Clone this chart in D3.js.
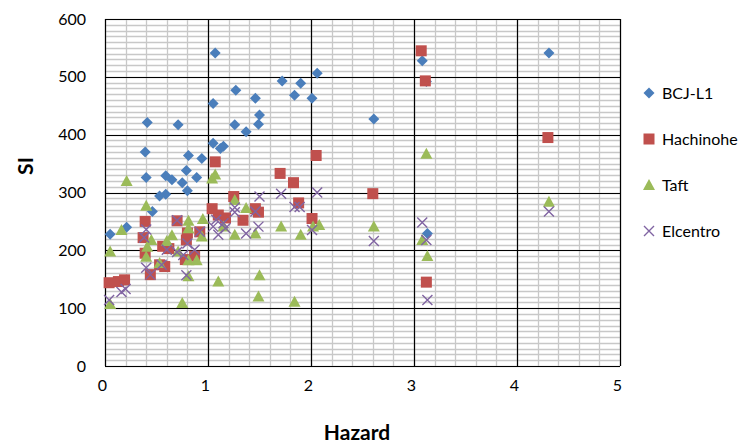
<!DOCTYPE html>
<html>
<head>
<meta charset="utf-8">
<script src="https://cdn.jsdelivr.net/npm/d3@7"></script>
<style>
  body { margin: 0; background: #fff; }
  text { font-family: Lato, "Open Sans", sans-serif; }
</style>
</head>
<body>
<div id="chart"></div>
<script>
// hazard / SI pairs
var bcj = [[0.05,228],[0.21,240],[0.39,370],[0.41,421],[0.40,326],[0.46,267],[0.53,294],[0.59,297],
  [0.59,329],[0.65,322],[0.71,417],[0.75,317],[0.79,338],[0.80,303],[0.81,364],[0.89,326],[0.94,359],
  [1.05,385],[1.05,454],[1.07,541],[1.12,376],[1.15,380],[1.26,417],[1.27,477],[1.37,405],[1.46,463],
  [1.49,418],[1.50,434],[1.72,493],[1.84,468],[1.90,489],[2.01,463],[2.06,506],[2.61,427],[3.08,528],
  [3.12,492],[3.13,229],[4.31,541]]
var hachinohe = [[0.04,144],[0.13,146],[0.19,149],[0.37,222],[0.39,250],[0.39,195],[0.44,158],[0.53,175],
  [0.58,172],[0.56,207],[0.62,203],[0.70,251],[0.78,184],[0.79,218],[0.80,230],[0.87,190],[0.92,232],
  [1.04,272],[1.07,353],[1.10,261],[1.17,256],[1.25,293],[1.34,252],[1.46,272],[1.49,266],[1.70,333],
  [1.83,317],[1.88,282],[2.01,255],[2.05,364],[2.60,298],[3.07,545],[3.11,493],[3.12,145],[4.30,395]]
var taft = [[0.05,107],[0.05,198],[0.16,235],[0.21,320],[0.40,277],[0.41,206],[0.40,189],[0.45,218],
  [0.53,178],[0.60,216],[0.65,226],[0.71,198],[0.75,109],[0.81,251],[0.81,238],[0.81,183],[0.81,155],
  [0.89,183],[0.94,224],[0.95,254],[1.04,324],[1.07,331],[1.10,146],[1.15,241],[1.26,287],[1.26,227],
  [1.37,273],[1.46,229],[1.50,157],[1.49,120],[1.71,241],[1.84,111],[1.90,227],[2.02,241],[2.08,244],
  [2.61,241],[3.08,218],[3.12,367],[3.13,190],[4.31,284]]
var elcentro = [[0.04,114],[0.16,128],[0.20,133],[0.38,222],[0.40,236],[0.40,170],[0.44,158],[0.55,175],
  [0.60,201],[0.70,252],[0.70,197],[0.76,192],[0.79,157],[0.80,212],[0.87,201],[0.92,232],[1.05,241],
  [1.08,253],[1.10,227],[1.15,247],[1.17,238],[1.26,274],[1.26,266],[1.37,229],[1.46,267],[1.50,293],
  [1.49,241],[1.71,298],[1.84,275],[1.89,275],[2.01,235],[2.06,300],[2.61,216],[3.08,248],[3.12,218],
  [3.13,114],[4.31,267]]

var seriesNames = ['BCJ-L1', 'Hachinohe', 'Taft', 'Elcentro']
var xTicks = [0, 1, 2, 3, 4, 5]
var yTicks = [0, 100, 200, 300, 400, 500, 600]

var series = [
  { name: seriesNames[0], data: bcj, color: '#4a7ebb', shape: 'diamond' },
  { name: seriesNames[1], data: hachinohe, color: '#c0504d', shape: 'square' },
  { name: seriesNames[2], data: taft, color: '#9bbb59', shape: 'triangle' },
  { name: seriesNames[3], data: elcentro, color: '#8064a2', shape: 'cross' }
]

var svg = d3.select('#chart').append('svg')
  .attr('width', 756).attr('height', 444)

var x = d3.scaleLinear().domain([0, 5]).range([105, 620])
var y = d3.scaleLinear().domain([0, 600]).range([366, 19])

var grid = svg.append('g')
// minor grid
grid.selectAll('.vx').data(d3.range(0, 5.01, 0.2)).enter().append('line')
  .attr('x1', d => Math.round(x(d)) + 0.5).attr('x2', d => Math.round(x(d)) + 0.5)
  .attr('y1', y(0)).attr('y2', y(600))
  .attr('stroke', '#c8c8c8').attr('stroke-width', 1.3)
grid.selectAll('.hy').data(d3.range(0, 601, 10)).enter().append('line')
  .attr('y1', d => Math.round(y(d)) + 0.5).attr('y2', d => Math.round(y(d)) + 0.5)
  .attr('x1', x(0)).attr('x2', x(5))
  .attr('stroke', '#c8c8c8').attr('stroke-width', 1.3)
// major grid
grid.selectAll('.mx').data(xTicks).enter().append('line')
  .attr('x1', d => Math.round(x(d)) + 0.5).attr('x2', d => Math.round(x(d)) + 0.5)
  .attr('y1', y(0)).attr('y2', y(600))
  .attr('stroke', '#000').attr('stroke-width', 1.2)
grid.selectAll('.my').data(yTicks).enter().append('line')
  .attr('y1', d => Math.round(y(d)) + 0.5).attr('y2', d => Math.round(y(d)) + 0.5)
  .attr('x1', x(0)).attr('x2', x(5))
  .attr('stroke', '#000').attr('stroke-width', 1.2)

// axes (labels only, lines come from the grid)
var xAxis = svg.append('g').attr('transform', 'translate(-3,' + y(0) + ')')
  .call(d3.axisBottom(x).tickValues(xTicks).tickSize(0).tickPadding(14).tickFormat(d3.format('d')))
var yAxis = svg.append('g').attr('transform', 'translate(' + x(0) + ',0)')
  .call(d3.axisLeft(y).tickValues(yTicks).tickSize(0).tickPadding(19).tickFormat(d3.format('d')))
svg.selectAll('.domain').remove()
svg.selectAll('.tick text').attr('font-size', 16).attr('font-family', 'Lato, sans-serif').attr('fill', '#000')

svg.append('text').attr('x', 357).attr('y', 440).attr('text-anchor', 'middle')
  .attr('font-size', 21).attr('font-weight', 'bold').text('Hazard')
svg.append('text').attr('transform', 'translate(33,166) rotate(-90)').attr('text-anchor', 'middle')
  .attr('font-size', 21).attr('font-weight', 'bold').text('SI')

function drawMark(sel, s) {
  if (s.shape === 'diamond') {
    sel.append('path').attr('d', 'M0,-5.5L5.5,0L0,5.5L-5.5,0Z').attr('fill', s.color)
  } else if (s.shape === 'square') {
    sel.append('rect').attr('x', -5.5).attr('y', -5.5).attr('width', 11).attr('height', 11)
      .attr('fill', s.color)
  } else if (s.shape === 'triangle') {
    sel.append('path').attr('d', 'M0,-6L6,5L-6,5Z').attr('fill', s.color)
  } else {
    sel.append('path').attr('d', 'M-5,-5L5,5M5,-5L-5,5').attr('stroke', s.color)
      .attr('stroke-width', 1.4).attr('fill', 'none')
  }
}

var plot = svg.append('g')
series.forEach(function(s) {
  var g = plot.append('g')
  g.selectAll('g').data(s.data).enter().append('g')
    .attr('transform', d => 'translate(' + x(d[0]) + ',' + y(d[1]) + ')')
    .each(function() { drawMark(d3.select(this), s) })
})

// legend
var legend = svg.append('g')
series.forEach(function(s, i) {
  var ly = 93 + i * 46
  var m = legend.append('g').attr('transform', 'translate(649,' + ly + ')')
  drawMark(m, s)
  legend.append('text').attr('x', 662).attr('y', ly + 6).attr('font-size', 16).text(s.name)
})
</script>
</body>
</html>
